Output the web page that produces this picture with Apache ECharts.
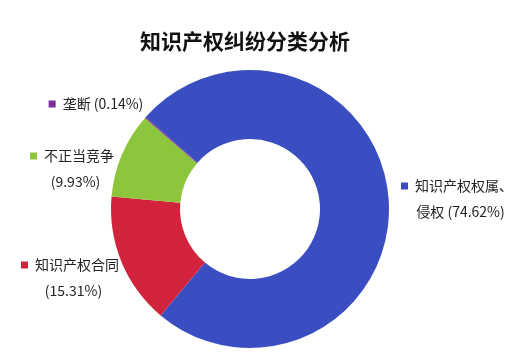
<!DOCTYPE html>
<html><head><meta charset="utf-8">
<script src="https://cdn.jsdelivr.net/npm/echarts@6/dist/echarts.min.js"></script>
<style>html,body{margin:0;padding:0;background:#fff}#c{width:531px;height:361px}</style>
</head><body><div id="c"></div>
<script>
var titleText = '知识产权纠纷分类分析';
var names = ['知识产权权属、\n侵权', '知识产权合同', '不正当竞争', '垄断'];
var values = [74.62, 15.31, 9.93, 0.14];
var colors = ['#3a4ec2', '#d2233d', '#8dc63c', '#7b2f9c'];
var labelPos = [[457, 199], [70, 278], [72, 169], [96, 104]];

var chart = echarts.init(document.getElementById('c'));
var data = names.map(function (n, i) {
  var first = n.split('\n');
  var txt;
  if (i === 3) {
    txt = '{m|}{t|' + n + ' (' + values[i].toFixed(2) + '%)}';
  } else if (i === 0) {
    txt = '{m|}{t|' + first[0] + '}\n{t|' + first[1] + ' (' + values[i].toFixed(2) + '%)}';
  } else {
    txt = '{m|}{t|' + n + '}\n{t|(' + values[i].toFixed(2) + '%)}';
  }
  return {
    name: n, value: values[i],
    itemStyle: { color: colors[i], borderWidth: 0 },
    label: {
      formatter: txt,
      rich: {
        m: { width: 7, height: 7, backgroundColor: colors[i], padding: 0 },
        t: { fontSize: 14, color: '#222', lineHeight: 26, padding: [0, 0, 0, 7], fontFamily: 'Noto Sans CJK SC' }
      }
    }
  };
});
chart.setOption({
  animation: false,
  title: {
    text: titleText, left: 240, top: 26, textAlign: 'center',
    textStyle: { fontSize: 21, fontWeight: 'bold', color: '#111', fontFamily: 'Noto Sans CJK SC' }
  },
  series: [{
    type: 'pie',
    center: [250, 209],
    radius: [70, 139],
    startAngle: 138.6,
    clockwise: true,
    avoidLabelOverlap: false,
    label: { show: true, position: 'outside', align: 'center', fontFamily: 'Noto Sans CJK SC' },
    labelLine: { show: false },
    labelLayout: function (p) {
      var pos = labelPos[p.dataIndex];
      return { x: pos[0], y: pos[1], align: 'center', verticalAlign: 'middle' };
    },
    data: data
  }]
});
</script></body></html>
